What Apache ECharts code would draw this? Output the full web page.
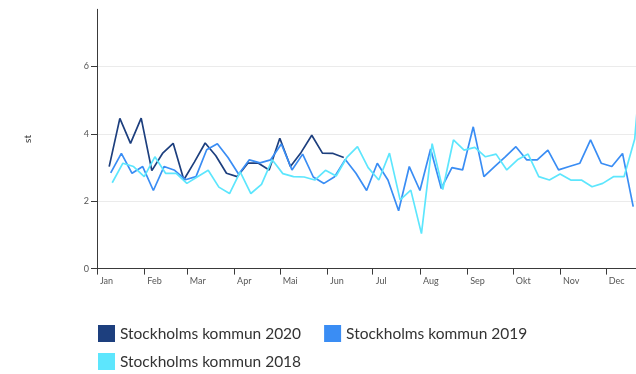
<!DOCTYPE html>
<html>
<head>
<meta charset="utf-8">
<script src="https://cdn.jsdelivr.net/npm/echarts@6/dist/echarts.min.js"></script>
<style>
  html, body { margin: 0; padding: 0; background: #fff; overflow: hidden; }
  /* the plot runs on past the right edge of the page to the end of the year */
  #chart { width: 653px; height: 374px; }
</style>
</head>
<body>
<div id="chart"></div>
<script>
// Month ticks along a day-of-year axis (non-leap year)
const monthNames = ['Jan', 'Feb', 'Mar', 'Apr', 'Mai', 'Jun', 'Jul', 'Aug', 'Sep', 'Okt', 'Nov', 'Dec'];
const monthStartDays = [0, 31, 59, 90, 120, 151, 181, 212, 243, 273, 304, 334];
const daysInAxis = 366; // Jan 1 .. Jan 1 of next year

// Weekly counts, first value of each year falls on this day of the year
const firstWeekDay = { '2020': 8, '2019': 9, '2018': 10 };

const values2020 = [3.03, 4.46, 3.72, 4.47, 2.91, 3.42, 3.72, 2.64, 3.17, 3.73,
  3.35, 2.83, 2.73, 3.13, 3.13, 2.93, 3.87, 3.03, 3.45, 3.96,
  3.43, 3.42, 3.3];

const values2019 = [2.84, 3.42, 2.83, 3.03, 2.32, 3.03, 2.92, 2.64, 2.73, 3.53,
  3.71, 3.3, 2.8, 3.23, 3.14, 3.23, 3.7, 2.93, 3.4, 2.72,
  2.53, 2.73, 3.24, 2.83, 2.32, 3.13, 2.63, 1.72, 3.03, 2.32,
  3.55, 2.38, 3.0, 2.93, 4.21, 2.73, 3.03, 3.32, 3.62, 3.23,
  3.23, 3.52, 2.93, 3.03, 3.13, 3.82, 3.13, 3.03, 3.42, 1.84];

const values2018 = [2.55, 3.13, 3.03, 2.73, 3.32, 2.83, 2.83, 2.53, 2.73, 2.92,
  2.42, 2.23, 2.87, 2.23, 2.5, 3.23, 2.82, 2.73, 2.72, 2.63,
  2.92, 2.75, 3.3, 3.62, 3.0, 2.63, 3.43, 2.04, 2.33, 1.04,
  3.71, 2.35, 3.82, 3.52, 3.6, 3.32, 3.4, 2.93, 3.23, 3.4,
  2.73, 2.63, 2.81, 2.63, 2.63, 2.43, 2.53, 2.73, 2.73, 3.85,
  7.65];

const seriesNames = ['Stockholms kommun 2020', 'Stockholms kommun 2019', 'Stockholms kommun 2018'];
const seriesColors = ['#1d3f7e', '#3a8df4', '#5de6fd'];

const dayCategories = [];
for (let d = 0; d < daysInAxis; d++) dayCategories.push(String(d));

function weekly(values, year) {
  const start = firstWeekDay[year];
  return values.map((v, i) => [String(start + 7 * i), v]);
}

const isMonthStart = (index) => monthStartDays.indexOf(index) !== -1;

const chart = echarts.init(document.getElementById('chart'), null, { renderer: 'canvas' });

const axisInk = '#3a3a3a';
const labelInk = '#555';

chart.setOption({
  animation: false,
  textStyle: { fontFamily: 'Lato' },
  grid: { left: 97, top: 9.3, right: 0, bottom: 105.4, containLabel: false },
  xAxis: {
    type: 'category',
    data: dayCategories,
    boundaryGap: false,
    axisLine: { show: true, lineStyle: { color: axisInk, width: 1 } },
    axisTick: { show: true, length: 6, interval: isMonthStart, lineStyle: { color: axisInk } },
    axisLabel: {
      interval: isMonthStart,
      formatter: (value) => monthNames[monthStartDays.indexOf(Number(value))],
      align: 'left',
      padding: [0, 0, 0, 3],
      margin: 8,
      fontSize: 9,
      color: labelInk,
      fontFamily: 'Lato'
    },
    splitLine: { show: false }
  },
  yAxis: {
    type: 'value',
    min: 0,
    max: 7.7,
    interval: 2,
    name: 'st',
    nameLocation: 'middle',
    nameGap: 64,
    nameTextStyle: { fontSize: 10, color: '#333', fontFamily: 'Lato' },
    axisLine: { show: true, lineStyle: { color: axisInk, width: 1 } },
    axisTick: { show: true, length: 6, lineStyle: { color: axisInk } },
    axisLabel: { showMaxLabel: false, margin: 8, fontSize: 9, color: labelInk, fontFamily: 'Lato' },
    splitLine: { show: true, showMinLine: false, showMaxLine: false, lineStyle: { color: '#ebebeb', width: 1 } }
  },
  legend: [
    {
      left: 98, top: 325, padding: 0,
      itemWidth: 17, itemHeight: 17, itemGap: 23,
      icon: 'rect',
      data: [seriesNames[0], seriesNames[1]],
      textStyle: { fontSize: 15.5, color: '#333', fontFamily: 'Lato' }
    },
    {
      left: 98, top: 353, padding: 0,
      itemWidth: 17, itemHeight: 17, itemGap: 23,
      icon: 'rect',
      data: [seriesNames[2]],
      textStyle: { fontSize: 15.5, color: '#333', fontFamily: 'Lato' }
    }
  ],
  series: [
    { name: seriesNames[0], type: 'line', data: weekly(values2020, '2020'), color: seriesColors[0],
      showSymbol: false, lineStyle: { width: 1.7 }, clip: true },
    { name: seriesNames[1], type: 'line', data: weekly(values2019, '2019'), color: seriesColors[1],
      showSymbol: false, lineStyle: { width: 1.7 }, clip: true },
    { name: seriesNames[2], type: 'line', data: weekly(values2018, '2018'), color: seriesColors[2],
      showSymbol: false, lineStyle: { width: 1.7 }, clip: true }
  ]
});
</script>
</body>
</html>
